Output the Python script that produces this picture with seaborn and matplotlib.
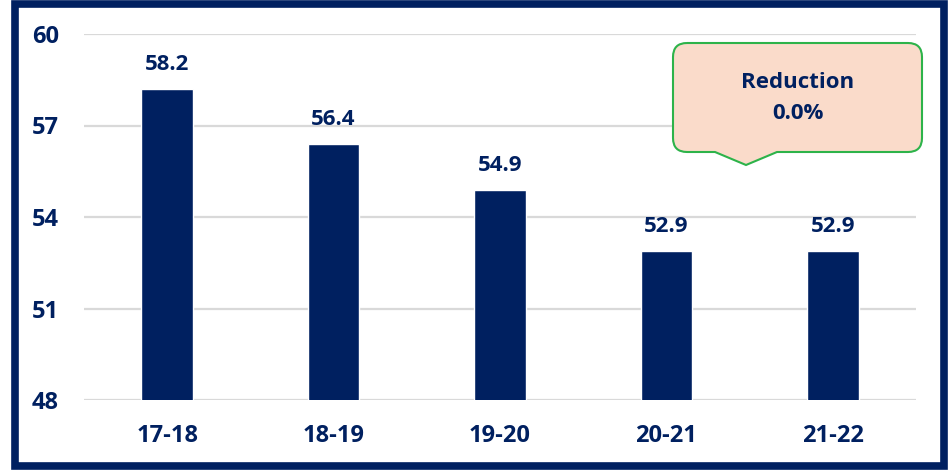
import numpy as np
import pandas as pd
import matplotlib
matplotlib.use('Agg')
from matplotlib import pyplot as plt
from matplotlib.path import Path
from matplotlib.patches import PathPatch, Rectangle
import seaborn as sns

years = ['17-18', '18-19', '19-20', '20-21', '21-22']
values = [58.2, 56.4, 54.9, 52.9, 52.9]
yticks = [48, 51, 54, 57, 60]
callout_text = 'Reduction\n0.0%'

navy = '#002060'
W, H = 949, 470

sns.set_style('white')
plt.rcParams['font.family'] = ['Open Sans', 'DejaVu Sans']
plt.rcParams['font.weight'] = 'bold'

df = pd.DataFrame({'year': years, 'value': values})

fig = plt.figure(figsize=(W / 100, H / 100), dpi=100)
ax = fig.add_axes([84 / W, 1 - 400 / H, (916 - 84) / W, (400 - 34) / H])

sns.barplot(data=df, x='year', y='value', color=navy, width=0.31,
            saturation=1, ax=ax, zorder=3)
ax.set_ylim(48, 60)
ax.set_yticks(yticks)
ax.set_xlim(-0.5, len(years) - 0.5)
ax.set_xlabel('')
ax.set_ylabel('')
for s in ax.spines.values():
    s.set_visible(False)
ax.yaxis.grid(True, color='#D9D9D9', lw=1.6, zorder=0)
ax.set_axisbelow(True)
ax.tick_params(axis='y', length=0, pad=18, labelsize=17, labelcolor=navy)
ax.tick_params(axis='x', length=0, pad=17, labelsize=17, labelcolor=navy)
for lab in ax.get_xticklabels() + ax.get_yticklabels():
    lab.set_fontweight('bold')

ax.bar_label(ax.containers[0], fmt='%.1f', padding=10, fontsize=16,
             color=navy, fontweight='bold')

# callout shape in pixel coords (top-left origin)
x0, x1, y0, y1, r = 673, 922, 43, 152, 14
px0, px1, tipx, tipy = 715, 777, 746, 165
pts = [
    (x0 + r, y0), (x1 - r, y0), (x1, y0), (x1, y0 + r),
    (x1, y1 - r), (x1, y1), (x1 - r, y1),
    (px1, y1), (tipx, tipy), (px0, y1),
    (x0 + r, y1), (x0, y1), (x0, y1 - r),
    (x0, y0 + r), (x0, y0), (x0 + r, y0),
]
codes = [Path.MOVETO, Path.LINETO, Path.CURVE3, Path.CURVE3,
         Path.LINETO, Path.CURVE3, Path.CURVE3,
         Path.LINETO, Path.LINETO, Path.LINETO,
         Path.LINETO, Path.CURVE3, Path.CURVE3,
         Path.LINETO, Path.CURVE3, Path.CURVE3]
verts = [(x / W, 1 - y / H) for x, y in pts]
fig.patches.append(PathPatch(Path(verts, codes), transform=fig.transFigure,
                             facecolor='#FADBCA', edgecolor='#2DB34A', lw=1.5))
fig.text(798 / W, 1 - 98 / H, callout_text, ha='center', va='center',
         fontsize=16, fontweight='bold', color=navy, linespacing=1.65)

# outer navy frame
fig.patches.append(Rectangle((15.5 / W, 4 / H), (943.5 - 15.5) / W, (466 - 4) / H,
                             transform=fig.transFigure, fill=False,
                             edgecolor=navy, lw=5.5))

fig.savefig('out.png', dpi=100)
